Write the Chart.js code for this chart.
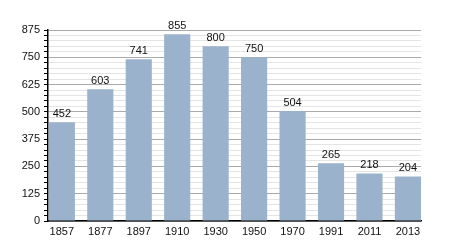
<!DOCTYPE html>
<html>
<head>
<meta charset="utf-8">
<script src="https://cdn.jsdelivr.net/npm/chart.js@4/dist/chart.umd.min.js"></script>
<style>
  html, body { margin: 0; padding: 0; background: #fff; }
  #wrap { width: 450px; height: 250px; }
</style>
</head>
<body>
<div id="wrap"><canvas id="myChart"></canvas></div>
<script>
const years = ["1857", "1877", "1897", "1910", "1930", "1950", "1970", "1991", "2011", "2013"];
const population = [452, 603, 741, 855, 800, 750, 504, 265, 218, 204];
const yTicks = [0, 125, 250, 375, 500, 625, 750, 875];

// draws the value above each bar
const valueLabels = {
  id: "valueLabels",
  afterDatasetsDraw(chart) {
    const ctx = chart.ctx;
    const meta = chart.getDatasetMeta(0);
    ctx.save();
    ctx.font = "11px 'Liberation Sans', Arial, sans-serif";
    ctx.fillStyle = "#111";
    ctx.textAlign = "center";
    ctx.textBaseline = "bottom";
    meta.data.forEach((bar, i) => {
      ctx.fillText(population[i], bar.x, bar.y - 3);
    });
    ctx.restore();
  },
};

const ctx = document.getElementById("myChart");

new Chart(ctx, {
  type: "bar",
  data: {
    datasets: [
      {
        data: population.map((v, i) => ({ x: i, y: v })),
        backgroundColor: "#9bb2cc",
        borderWidth: 0,
        barPercentage: 0.68,
        categoryPercentage: 1,
      },
    ],
  },
  plugins: [valueLabels],
  options: {
    responsive: true,
    maintainAspectRatio: false,
    animation: false,
    layout: { padding: { top: 30, right: 29, left: 0, bottom: 0 } },
    plugins: { legend: { display: false }, tooltip: { enabled: false } },
    scales: {
      x: {
        type: "linear",
        offset: false,
        min: -0.36,
        max: 9.34,
        afterBuildTicks: (scale) => {
          scale.ticks = years.map((_, i) => ({ value: i }));
        },
        afterFit: (scale) => {
          scale.height = 29;
        },
        grid: { display: false, drawTicks: false },
        border: { color: "#000", width: 1.5 },
        ticks: {
          padding: 4,
          color: "#111",
          font: { size: 11, family: "'Liberation Sans', Arial, sans-serif" },
          autoSkip: false,
          maxRotation: 0,
          callback: (v) => years[v],
        },
      },
      y: {
        min: 0,
        max: 875,
        afterBuildTicks: (scale) => {
          const t = [];
          for (let v = 0; v <= 875; v += 25) t.push({ value: v });
          scale.ticks = t;
        },
        afterFit: (scale) => {
          scale.width = 48;
        },
        border: { color: "#000", width: 1.5 },
        grid: {
          color: (c) => (yTicks.includes(c.tick.value) ? "#aaaaaa" : "#e4e4e4"),
          tickColor: "#000",
          tickLength: 4,
        },
        ticks: {
          padding: 4,
          color: "#111",
          font: { size: 11, family: "'Liberation Sans', Arial, sans-serif" },
          autoSkip: false,
          callback: (v) => (yTicks.includes(v) ? v : ""),
        },
      },
    },
  },
});
</script>
</body>
</html>
